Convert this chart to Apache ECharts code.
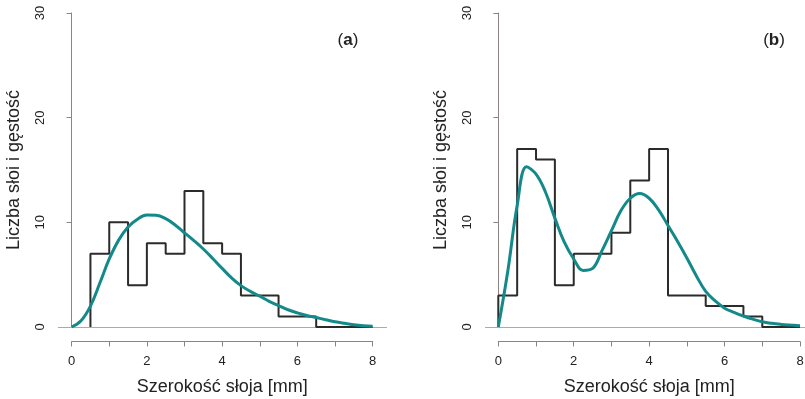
<!DOCTYPE html>
<html>
<head>
<meta charset="utf-8">
<script src="https://cdn.jsdelivr.net/npm/echarts@6/dist/echarts.min.js"></script>
<style>
  html, body { margin: 0; padding: 0; background: #fff; }
  #chart { width: 805px; height: 399px; }
</style>
</head>
<body>
<div id="chart"></div>
<script>
// histogram bins (edges in mm) and counts
const edgesA = [0.5, 1, 1.5, 2, 2.5, 3, 3.5, 4, 4.5, 5, 5.5, 6, 6.5, 7, 7.5, 8];
const countsA = [7, 10, 4, 8, 7, 13, 8, 7, 3, 3, 1, 1, 0, 0, 0];
const edgesB = [0, 0.5, 1, 1.5, 2, 2.5, 3, 3.5, 4, 4.5, 5, 5.5, 6, 6.5, 7, 7.5, 8];
const countsB = [3, 17, 16, 4, 7, 7, 9, 14, 17, 3, 3, 2, 2, 1, 0, 0];

// density curves
const densX = [0, 0.25, 0.5, 0.75, 1, 1.25, 1.5, 1.75, 2, 2.25, 2.5, 2.75, 3, 3.25, 3.5, 3.75, 4,
               4.25, 4.5, 4.75, 5, 5.25, 5.5, 5.75, 6, 6.25, 6.5, 6.75, 7, 7.25, 7.5, 7.75, 8];
const densA = [0, 0.6, 2.0, 4.2, 6.5, 8.3, 9.55, 10.3, 10.7, 10.68, 10.35, 9.75, 9.0, 8.25, 7.45, 6.55, 5.6,
               4.7, 3.95, 3.4, 2.95, 2.45, 2.05, 1.65, 1.35, 1.1, 0.9, 0.7, 0.5, 0.35, 0.22, 0.13, 0.08];
const densB = [0, 5.3, 11.6, 15.3, 14.6, 12.9, 10.4, 8.1, 6.5, 5.4, 5.6, 7.3, 9.2, 11.1, 12.3, 12.75, 12.3,
               11.2, 9.7, 8.2, 6.6, 4.9, 3.4, 2.5, 1.8, 1.4, 1.05, 0.75, 0.5, 0.35, 0.25, 0.18, 0.12];

const xTicks = [0, 8];      // visible x axis range
const yTicks = [0, 30, 10]; // min, max, step

const font = 'Liberation Sans, Arial, sans-serif';
const teal = '#14898a';
const axisGrey = '#8c8484';

function steps(edges, counts) {
  const pts = [[edges[0], 0]];
  counts.forEach((c, i) => {
    pts.push([edges[i], c]);
    pts.push([edges[i + 1], c]);
  });
  pts.push([edges[edges.length - 1], 0]);
  return pts;
}

const chart = echarts.init(document.getElementById('chart'));

function dataYAxis(gi) {
  return {
    gridIndex: gi, type: 'value', min: yTicks[0], max: yTicks[1], interval: yTicks[2],
    name: 'Liczba słoi i gęstość', nameLocation: 'middle', nameRotate: 90, nameGap: 35,
    nameTextStyle: { fontFamily: font, fontSize: 18, color: '#222' },
    axisLine: { show: true, lineStyle: { color: axisGrey, width: 1 } },
    axisTick: { show: true, length: 5, lineStyle: { color: axisGrey } },
    axisLabel: { rotate: 90, margin: 11, fontFamily: font, fontSize: 13, color: '#222' },
    splitLine: { show: false }
  };
}

function visXAxis(gi) {
  return {
    gridIndex: gi, type: 'value', min: xTicks[0], max: xTicks[1], interval: 1,
    position: 'bottom',
    name: 'Szerokość słoja [mm]', nameLocation: 'middle', nameGap: 37,
    nameTextStyle: { fontFamily: font, fontSize: 18, color: '#222' },
    axisLine: { show: true, lineStyle: { color: axisGrey, width: 1 } },
    axisTick: { show: true, length: 5, lineStyle: { color: axisGrey } },
    axisLabel: {
      margin: 13, fontFamily: font, fontSize: 13, color: '#222',
      showMinLabel: true, showMaxLabel: true,
      formatter: v => (v % 2 === 0 ? String(v) : '')
    },
    splitLine: { show: false }
  };
}

function hiddenXAxis(gi, lo, hi) {
  return { gridIndex: gi, type: 'value', min: lo, max: hi, show: false };
}
function hiddenYAxis(gi) {
  return { gridIndex: gi, type: 'value', min: 0, max: 1, show: false };
}

function histSeries(xi, yi, edges, counts) {
  return {
    type: 'line', xAxisIndex: xi, yAxisIndex: yi, data: steps(edges, counts),
    showSymbol: false, clip: false, z: 3,
    lineStyle: { color: '#2b2b2b', width: 2 },
    markLine: {
      silent: true, symbol: 'none', label: { show: false },
      lineStyle: { color: '#aaaaaa', type: 'solid', width: 1 },
      data: [{ yAxis: 0 }], z: 1
    }
  };
}

function densSeries(xi, yi, ys) {
  return {
    type: 'line', xAxisIndex: xi, yAxisIndex: yi,
    data: densX.map((x, i) => [x, ys[i]]),
    smooth: 0.4, showSymbol: false, clip: false, z: 4,
    lineStyle: { color: teal, width: 3 }
  };
}

const option = {
  animation: false,
  backgroundColor: '#fff',
  grid: [
    { left: 58, top: 13, width: 329, height: 314, outerBoundsMode: 'none' },
    { left: 71.7, top: 340.5, width: 301, height: 1, outerBoundsMode: 'none' },
    { left: 485, top: 13, width: 320, height: 314, outerBoundsMode: 'none' },
    { left: 498.3, top: 340.5, width: 301.7, height: 1, outerBoundsMode: 'none' }
  ],
  xAxis: [
    hiddenXAxis(0, -0.362, 8.382), visXAxis(1),
    hiddenXAxis(2, -0.353, 8.133), visXAxis(3)
  ],
  yAxis: [dataYAxis(0), hiddenYAxis(1), dataYAxis(2), hiddenYAxis(3)],
  series: [
    histSeries(0, 0, edgesA, countsA),
    densSeries(0, 0, densA),
    histSeries(2, 2, edgesB, countsB),
    densSeries(2, 2, densB)
  ],
  graphic: [
    {
      type: 'text', x: 348, y: 40,
      style: {
        text: '{p|(}{b|a}{p|)}', textAlign: 'center', textVerticalAlign: 'middle',
        rich: {
          p: { fontFamily: font, fontSize: 17, fill: '#222' },
          b: { fontFamily: font, fontSize: 17, fontWeight: 'bold', fill: '#222' }
        }
      }
    },
    {
      type: 'text', x: 774, y: 40,
      style: {
        text: '{p|(}{b|b}{p|)}', textAlign: 'center', textVerticalAlign: 'middle',
        rich: {
          p: { fontFamily: font, fontSize: 17, fill: '#222' },
          b: { fontFamily: font, fontSize: 17, fontWeight: 'bold', fill: '#222' }
        }
      }
    }
  ]
};

chart.setOption(option);
</script>
</body>
</html>
